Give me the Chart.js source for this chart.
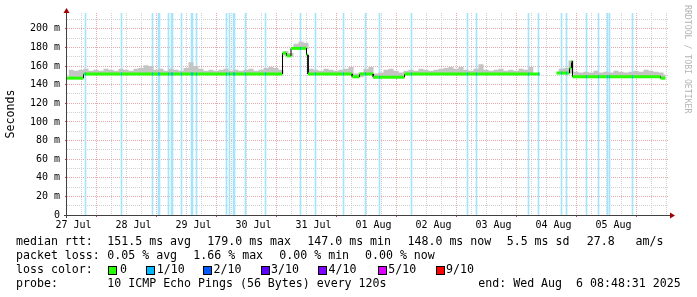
<!DOCTYPE html>
<html>
<head>
<meta charset="utf-8">
<script src="https://cdn.jsdelivr.net/npm/chart.js@4/dist/chart.umd.min.js"></script>
<style>
  body { margin: 0; background: #fff; }
  #wrap { position: relative; width: 697px; height: 297px; overflow: hidden; }
  #chart { position: absolute; left: 0; top: 0; }
  .lg { position: absolute; font-family: 'DejaVu Sans Mono', monospace; font-size: 11.6px; line-height: 14px; white-space: pre; color: #000; }
  .box { position: absolute; width: 7px; height: 7px; border: 1px solid #000; top: 266px; }
</style>
</head>
<body>
<div id="wrap">
  <canvas id="chart" width="697" height="297"></canvas>

  <span class="lg" style="left:16px;top:234px">median rtt:</span>
  <span class="lg" style="left:107.3px;top:234px">151.5 ms avg</span>
  <span class="lg" style="left:207.3px;top:234px">179.0 ms max</span>
  <span class="lg" style="left:307.3px;top:234px">147.0 ms min</span>
  <span class="lg" style="left:407.5px;top:234px">148.0 ms now</span>
  <span class="lg" style="left:506.7px;top:234px">5.5 ms sd</span>
  <span class="lg" style="left:586.7px;top:234px">27.8   am/s</span>

  <span class="lg" style="left:16px;top:248px">packet loss:</span>
  <span class="lg" style="left:107.3px;top:248px">0.05 % avg</span>
  <span class="lg" style="left:193.3px;top:248px">1.66 % max</span>
  <span class="lg" style="left:279.3px;top:248px">0.00 % min</span>
  <span class="lg" style="left:365px;top:248px">0.00 % now</span>

  <span class="lg" style="left:16px;top:262px">loss color:</span>
  <div class="box" style="left:108px;background:#26ff00"></div><span class="lg" style="left:120px;top:262px">0</span>
  <div class="box" style="left:146px;background:#00b8ff"></div><span class="lg" style="left:156.7px;top:262px">1/10</span>
  <div class="box" style="left:203px;background:#0059ff"></div><span class="lg" style="left:213.5px;top:262px">2/10</span>
  <div class="box" style="left:260.5px;background:#5e00ff"></div><span class="lg" style="left:271px;top:262px">3/10</span>
  <div class="box" style="left:318px;background:#7e00ff"></div><span class="lg" style="left:328.5px;top:262px">4/10</span>
  <div class="box" style="left:377.5px;background:#dd00ff"></div><span class="lg" style="left:388.3px;top:262px">5/10</span>
  <div class="box" style="left:435.5px;background:#ff0000"></div><span class="lg" style="left:446px;top:262px">9/10</span>

  <span class="lg" style="left:16px;top:276px">probe:</span>
  <span class="lg" style="left:107.3px;top:276px">10 ICMP Echo Pings (56 Bytes) every 120s</span>
  <span class="lg" style="left:478.3px;top:276px">end: Wed Aug  6 08:48:31 2025</span>
</div>

<script>
// x values are hours since 27 Jul 00:00
const dayLabels = ['27 Jul', '28 Jul', '29 Jul', '30 Jul', '31 Jul', '01 Aug', '02 Aug', '03 Aug', '04 Aug', '05 Aug'];
const dayNoonHours = [12, 36, 60, 84, 108, 132, 156, 180, 204, 228];
const yTickValues = [0, 10, 20, 30, 40, 50, 60, 70, 80, 90, 100, 110, 120, 130, 140, 150, 160, 170, 180, 190, 200, 210];

// median rtt (ms) as steps: value holds from its start hour to the next one
const medianStartHours = [9.4, 16, 95.6, 97.2, 99, 105.2, 105.8, 123.5, 126.4, 131.9, 144.4, 198.5, 205.2, 210.4, 211.2, 211.6, 246.8];
const medianValues = [147, 151.5, 174, 171, 179, 172, 151.5, 148.5, 151.5, 148, 151.5, null, 152.5, 158, 165, 148.5, 147];
const medianEndHour = 248.8;

// smoke (spread of the pings) every 2 hours
const smokeHours = [10, 12, 14, 16, 18, 20, 22, 24, 26, 28, 30, 32, 34, 36, 38, 40, 42, 44, 46, 48,
  50, 52, 54, 56, 58, 60, 62, 64, 66, 68, 70, 72, 74, 76, 78, 80, 82, 84, 86, 88,
  90, 92, 94, 96, 98, 100, 102, 104, 106, 108, 110, 112, 114, 116, 118, 120, 122, 124, 126, 128,
  130, 132, 134, 136, 138, 140, 142, 144, 146, 148, 150, 152, 154, 156, 158, 160, 162, 164, 166, 168,
  170, 172, 174, 176, 178, 180, 182, 184, 186, 188, 190, 192, 194, 196, 198, 200, 202, 204, 206, 208,
  210, 212, 214, 216, 218, 220, 222, 224, 226, 228, 230, 232, 234, 236, 238, 240, 242, 244, 246, 248, 248.8];
const smokeTop = [156, 155, 156, 157, 155, 156, 155, 157, 156, 155, 157, 156, 155, 157, 158, 161, 160, 156, 157, 155,
  157, 156, 155, 158, 164, 160, 157, 155, 156, 155, 156, 157, 155, 156, 155, 156, 157, 155, 156, 158,
  159, 158, 156, 176, 174, 184, 186, 185, 157, 156, 155, 157, 156, 155, 156, 157, 159, 152, 153, 157,
  159, 152, 153, 156, 157, 155, 153, 155, 156, 155, 157, 156, 155, 156, 157, 158, 159, 157, 159, 156,
  155, 157, 162, 156, 155, 156, 157, 155, 156, 155, 157, 156, 159, 156, null, null, null, null, 157, 158,
  166, 154, 153, 154, 153, 155, 153, 154, 153, 155, 154, 153, 154, 155, 154, 156, 155, 154, 153, 151, 151];
const smokeLow = [147, 147, 147, 151, 151, 151, 151, 151, 151, 151, 151, 151, 151, 151, 151, 151, 151, 151, 151, 151,
  151, 151, 151, 151, 151, 151, 151, 151, 151, 151, 151, 151, 151, 151, 151, 151, 151, 151, 151, 151,
  151, 151, 151, 171, 170, 178, 178, 178, 151, 151, 151, 151, 151, 151, 151, 151, 151, 147.5, 148, 151,
  151, 147.5, 147.5, 147.5, 147.5, 147.5, 147.5, 151, 151, 151, 151, 151, 151, 151, 151, 151, 151, 151, 151, 151,
  151, 151, 151, 151, 151, 151, 151, 151, 151, 151, 151, 151, 151, 151, null, null, null, null, 151.5, 151.5,
  152, 148, 148, 148, 148, 148, 148, 148, 148, 148, 148, 148, 148, 148, 148, 148, 148, 148, 148, 146.5, 146.5];

// hours with 1/10 packet loss
const lossHours = [16.8, 31.2, 43.6, 46.0, 46.4, 50.0, 51.2, 51.6, 55.2, 59.2, 59.6, 61.2, 73.2, 74.4, 76.0, 76.4,
  80.8, 88.8, 102.8, 108.8, 120.0, 128.8, 134.4, 147.2, 169.6, 173.2, 194.0, 198.0, 207.2, 209.2, 217.2,
  222.0, 225.6, 226.4, 235.6];

const MONO = "'DejaVu Sans Mono', monospace";
const RED_GRID = '#e6a8a8';
const GREY_GRID = '#d0d0d0';

function medianAt(h) {
  let v = null;
  for (let i = 0; i < medianStartHours.length; i++) {
    if (medianStartHours[i] <= h) v = medianValues[i];
  }
  return v;
}

const medianPts = [];
medianStartHours.forEach((start, i) => {
  const end = i + 1 < medianStartHours.length ? medianStartHours[i + 1] : medianEndHour;
  medianPts.push({ x: start, y: medianValues[i] }, { x: end, y: medianValues[i] });
});

const xTickHours = [];
for (let h = 12; h <= 246; h += 6) xTickHours.push(h);

const isMajor = (c, step) => c.tick && c.tick.value % step === 0;

const decor = {
  id: 'decor',
  afterDraw(chart) {
    const { ctx, chartArea: a } = chart;
    ctx.save();
    ctx.strokeStyle = '#404040';
    ctx.lineWidth = 1;
    ctx.beginPath();
    ctx.moveTo(a.left - 0.5, a.bottom + 3);
    ctx.lineTo(a.left - 0.5, a.top - 3);
    ctx.moveTo(a.left - 3, a.bottom + 0.5);
    ctx.lineTo(a.right + 2, a.bottom + 0.5);
    ctx.stroke();

    ctx.fillStyle = '#a00000';
    ctx.beginPath();
    ctx.moveTo(a.left - 0.5, a.top - 5);
    ctx.lineTo(a.left - 3.5, a.top);
    ctx.lineTo(a.left + 2.5, a.top);
    ctx.closePath();
    ctx.fill();
    ctx.beginPath();
    ctx.moveTo(a.right + 6, a.bottom + 0.5);
    ctx.lineTo(a.right + 1, a.bottom - 2.5);
    ctx.lineTo(a.right + 1, a.bottom + 3.5);
    ctx.closePath();
    ctx.fill();

    ctx.fillStyle = '#000';
    ctx.font = '11.6px ' + MONO;
    ctx.textAlign = 'center';
    ctx.textBaseline = 'middle';
    ctx.translate(11, 114);
    ctx.rotate(-Math.PI / 2);
    ctx.fillText('Seconds', 0, 0);
    ctx.restore();

    ctx.save();
    ctx.fillStyle = '#b4b4b4';
    ctx.font = '8.2px ' + MONO;
    ctx.textAlign = 'left';
    ctx.textBaseline = 'middle';
    ctx.translate(687, 5);
    ctx.rotate(Math.PI / 2);
    ctx.fillText('RRDTOOL / TOBI OETIKER', 0, 0);
    ctx.restore();
  }
};

new Chart(document.getElementById('chart'), {
  type: 'line',
  data: {
    datasets: [
      {
        type: 'bar',
        data: lossHours.map(h => ({ x: h, y: 217 })),
        backgroundColor: '#a6e4fb',
        barThickness: 1,
        borderWidth: 0,
        order: 10
      },
      {
        data: smokeHours.map((h, i) => ({ x: h, y: smokeLow[i] })),
        stepped: true,
        borderWidth: 0,
        pointRadius: 0,
        fill: false,
        order: 6
      },
      {
        data: smokeHours.map((h, i) => ({ x: h, y: smokeTop[i] })),
        stepped: true,
        borderWidth: 0,
        pointRadius: 0,
        backgroundColor: '#c4c4c4',
        fill: '-1',
        order: 5
      },
      {
        data: medianPts,
        borderColor: '#26ff00',
        borderWidth: 3,
        pointRadius: 0,
        tension: 0,
        segment: {
          borderColor: c => c.p0.parsed.x === c.p1.parsed.x ? '#000' : '#26ff00',
          borderWidth: c => c.p0.parsed.x === c.p1.parsed.x ? 1 : 3
        },
        order: 2
      },
      {
        data: lossHours.map(h => ({ x: h, y: medianAt(h) })),
        showLine: false,
        pointStyle: 'line',
        rotation: 90,
        pointRadius: 1.5,
        borderColor: '#00b8ff',
        borderWidth: 1,
        order: 1
      }
    ]
  },
  options: {
    responsive: false,
    devicePixelRatio: 1,
    animation: false,
    layout: { padding: { left: 0, top: 13, right: 28, bottom: 67 } },
    plugins: { legend: { display: false }, tooltip: { enabled: false } },
    scales: {
      x: {
        type: 'linear',
        min: 9.4,
        max: 250.2,
        offset: false,
        afterBuildTicks: s => { s.ticks = xTickHours.map(v => ({ value: v })); },
        afterFit: s => { s.height = 15; },
        border: { display: false, dash: [1, 1] },
        grid: {
          color: c => isMajor(c, 24) ? RED_GRID : GREY_GRID,
          tickColor: c => isMajor(c, 24) ? '#cc4444' : 'rgba(0,0,0,0)',
          tickLength: 2,
          drawTicks: true
        },
        ticks: {
          autoSkip: false,
          maxRotation: 0,
          padding: 2,
          color: '#000',
          font: { family: MONO, size: 10 },
          callback: v => {
            const i = dayNoonHours.indexOf(v);
            return i >= 0 ? dayLabels[i] : '';
          }
        }
      },
      y: {
        min: 0,
        max: 217,
        afterBuildTicks: s => { s.ticks = yTickValues.map(v => ({ value: v })); },
        afterFit: s => { s.width = 67; },
        border: { display: false, dash: [1, 1] },
        grid: {
          color: c => isMajor(c, 20) ? RED_GRID : GREY_GRID,
          tickColor: c => isMajor(c, 20) ? '#cc4444' : 'rgba(0,0,0,0)',
          tickLength: 2,
          drawTicks: true
        },
        ticks: {
          autoSkip: false,
          padding: 5,
          color: '#000',
          font: { family: MONO, size: 10 },
          callback: v => v % 20 ? '' : (v === 0 ? '0' : v + ' m')
        }
      }
    }
  },
  plugins: [decor]
});
</script>
</body>
</html>
